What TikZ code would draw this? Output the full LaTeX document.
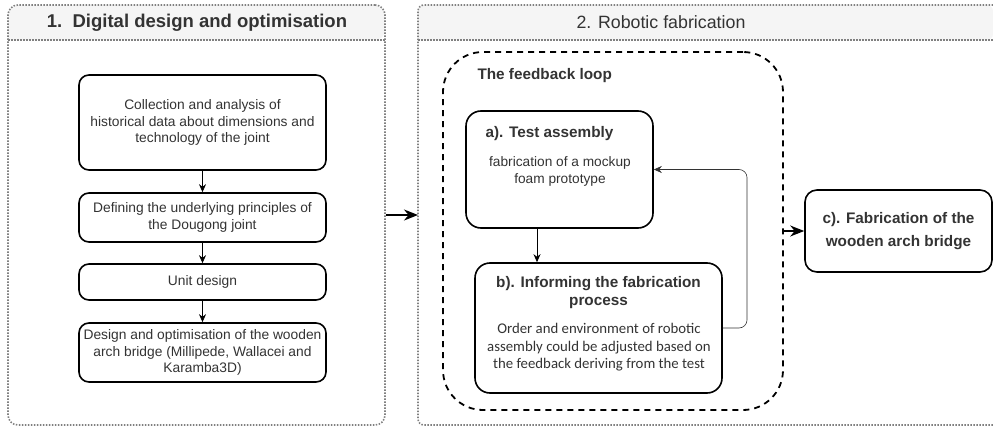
\documentclass[tikz,border=0pt]{standalone}
\usepackage{fontspec}
\setmainfont{Liberation Sans}
\newfontfamily\bodyfont{Carlito}
\usetikzlibrary{positioning,arrows.meta}
\definecolor{header grey}{rgb}{0.96, 0.96, 0.96}
\definecolor{dot grey}{rgb}{0.5, 0.5, 0.5}
\definecolor{ink grey}{rgb}{0.2, 0.2, 0.2}

\tikzset{
  stepbox/.style={draw, line width=1.6pt, rounded corners=10pt, align=center,
    minimum width=247pt, inner sep=2pt, text=ink grey,
    font=\fontsize{13.8}{16.5}\selectfont},
  roundbox/.style={draw, line width=1.6pt, rounded corners=15pt},
  headtext/.style={text=ink grey, align=center, font=\bfseries\fontsize{15.3}{18}\selectfont},
  plaintext/.style={text=ink grey, align=center, font=\fontsize{13.7}{17}\selectfont},
  flow/.style={-{Stealth[length=8pt,width=7pt]}, line width=0.8pt},
  bigflow/.style={-{Stealth[length=14pt,width=11pt]}, line width=1.8pt},
  panel/.style={dot grey, line width=1.6pt, dash pattern=on 1.5pt off 1.5pt},
}

\begin{document}
\begin{tikzpicture}[x=1pt, y=-1pt]
			\useasboundingbox (0,0) rectangle (993,428);
			% panel 1: digital design
			\begin{scope}
				\fill[header grey, rounded corners=10pt] (8,40) |- (385,5) -- (385,40) [sharp corners] -- cycle;
				\node[panel, draw, rounded corners=10pt, minimum width=377pt, minimum height=420pt] (design) at (196.5,215) {};
				\draw[panel] (8,40) -- (385,40);
				\node[font=\bfseries\fontsize{18.5}{20}\selectfont, text=ink grey] (designtitle) at (197,22.5) {1.\ \ Digital design and optimisation};
			\end{scope}
			% panel 2: robotic fabrication
			\begin{scope}
				\fill[header grey, rounded corners=6pt] (418,40) |- (993,5) -- (993,40) [sharp corners] -- cycle;
				\draw[panel, rounded corners=6pt] (993,5) -- (418,5) -- (418,425) -- (993,425);
				\draw[panel] (418,40) -- (993,40);
				\node[font=\fontsize{17.8}{20}\selectfont, text=ink grey] (fabtitle) at (661,22.5) {2. Robotic fabrication};
				\coordinate (fabstart) at (418,215);
			\end{scope}
			% steps of panel 1
			\node[stepbox, minimum height=95pt] (history) at (202.5,122.5)
				{Collection and analysis of\\historical data about dimensions and\\technology of the joint};
			\node[stepbox, minimum height=49pt] (principles) at (202.5,217.5)
				{Defining the underlying principles of\\the Dougong joint};
			\node[stepbox, minimum height=36pt] (unit) at (202.5,282) {Unit design};
			\node[stepbox, minimum height=59pt, inner xsep=0pt] (bridge) at (202.5,352.5)
				{Design and optimisation of the wooden\\arch bridge (Millipede, Wallacei and\\Karamba3D)};
			\draw[flow] (history) -- (principles);
			\draw[flow] (principles) -- (unit);
			\draw[flow] (unit) -- (bridge);
			\draw[bigflow] (design.east |- fabstart) -- (fabstart);
			% the feedback loop
			\node[draw, line width=1.8pt, dash pattern=on 6pt off 5pt, rounded corners=40pt,
				minimum width=340pt, minimum height=358pt] (loop) at (613,231) {};
			\node[headtext, anchor=west] (looptitle) at (474,76) {The feedback loop};
			% a) test assembly
			\node[roundbox, minimum width=187pt, minimum height=117pt] (test) at (559.5,169.5) {};
			\node[headtext, anchor=west] (testtitle) at (482,134) {a). Test assembly};
			\node[plaintext] (testtext) at (560,171.5) {fabrication of a mockup\\foam prototype};
			% b) informing the fabrication
			\node[roundbox, minimum width=247pt, minimum height=130pt] (inform) at (598.5,328) {};
			\node[headtext] (informtitle) at (598.5,293) {b). Informing the fabrication\\process};
			\node[plaintext, font=\bodyfont\fontsize{14.8}{17.5}\selectfont] (informtext) at (599,347.5)
				{Order and environment of robotic\\assembly could be adjusted based on\\the feedback deriving from the test};
			\draw[flow] (test.south -| 537,0) -- (inform.north -| 537,0);
			\coordinate (loopturn) at (747,169.5);
			\draw[flow, line width=0.6pt, ink grey, rounded corners=8pt] (inform.east) -| (loopturn) -- (test.east);
			% c) fabrication of the bridge
			\node[roundbox, rounded corners=12pt, headtext, font=\bfseries\fontsize{15.3}{23}\selectfont,
				minimum width=187pt, minimum height=82pt] (final) at (898.5,231)
				{c). Fabrication of the\\wooden arch bridge};
			\draw[bigflow] (loop.east) -- (final.west);
		\end{tikzpicture}
\end{document}
